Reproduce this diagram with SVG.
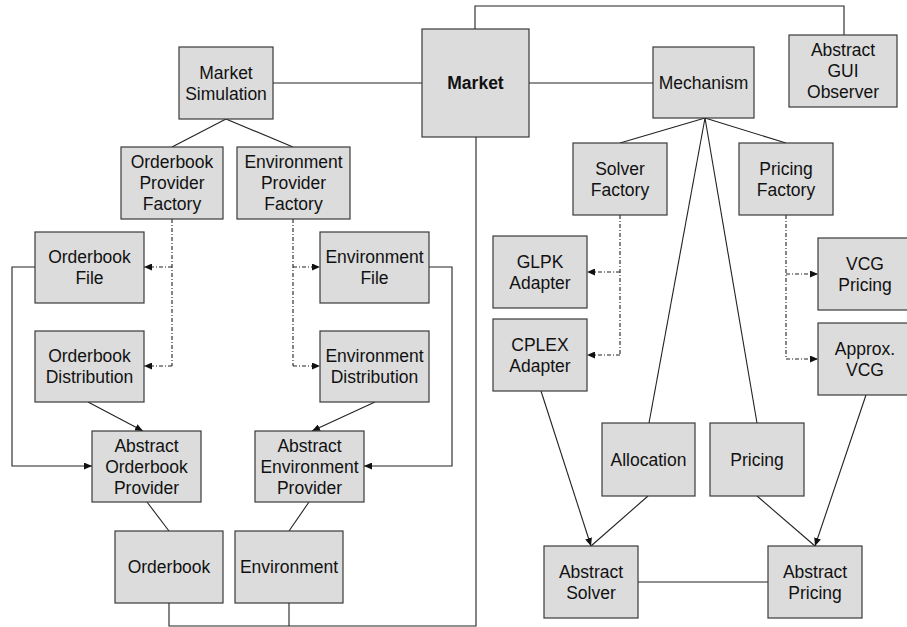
<svg xmlns="http://www.w3.org/2000/svg" width="907" height="627" viewBox="0 0 907 627">
<defs>
<marker id="arr" viewBox="0 0 8 7" refX="8" refY="3.5" markerWidth="8" markerHeight="7" markerUnits="userSpaceOnUse" orient="auto">
<path d="M0,0 L8,3.5 L0,7 z" fill="#111"/>
</marker>
<style>
.box rect{fill:#dcdcdc;stroke:#3a3a3a;stroke-width:1.2}
.box text{font-family:"Liberation Sans",Arial,sans-serif;font-size:17.5px;fill:#111;text-anchor:middle}
.ln{fill:none;stroke:#222;stroke-width:1.1}
.dash{fill:none;stroke:#222;stroke-width:1.1;stroke-dasharray:4,2,1,2}
.ar{marker-end:url(#arr)}
</style>
</defs>
<rect width="907" height="627" fill="#fff"/>
<g id="connectors">
<line class="ln" x1="273" y1="83" x2="422" y2="83"/>
<line class="ln" x1="529" y1="83" x2="653" y2="83"/>
<polyline class="ln" points="475,29 475,6 844,6 844,35"/>
<polyline class="ln" points="476,137 476,626 169,626 169,603"/>
<line class="ln" x1="289" y1="603" x2="289" y2="626"/>
<line class="ln" x1="226" y1="119" x2="172" y2="147"/>
<line class="ln" x1="226" y1="119" x2="293" y2="147"/>
<line class="dash" x1="172" y1="219" x2="172" y2="366"/>
<line class="dash ar" x1="172" y1="267" x2="144" y2="267"/>
<line class="dash ar" x1="172" y1="366" x2="144" y2="366"/>
<line class="dash" x1="293" y1="219" x2="293" y2="366"/>
<line class="dash ar" x1="293" y1="267" x2="320" y2="267"/>
<line class="dash ar" x1="293" y1="366" x2="320" y2="366"/>
<polyline class="ln ar" points="35,267 12,267 12,466 92,466"/>
<line class="ln ar" x1="88" y1="402" x2="143" y2="431"/>
<line class="ln ar" x1="375" y1="402" x2="312" y2="431"/>
<polyline class="ln ar" points="429,267 452,267 452,466 364,466"/>
<line class="ln" x1="147" y1="502" x2="169" y2="531"/>
<line class="ln" x1="309" y1="502" x2="289" y2="531"/>
<line class="ln" x1="705" y1="118" x2="620" y2="143"/>
<line class="ln" x1="705" y1="118" x2="786" y2="143"/>
<line class="ln" x1="705" y1="118" x2="649" y2="423"/>
<line class="ln" x1="705" y1="118" x2="757" y2="423"/>
<line class="dash" x1="620" y1="215" x2="620" y2="355"/>
<line class="dash ar" x1="620" y1="272" x2="587" y2="272"/>
<line class="dash ar" x1="620" y1="355" x2="587" y2="355"/>
<line class="dash" x1="786" y1="215" x2="786" y2="359"/>
<line class="dash ar" x1="786" y1="274" x2="818" y2="274"/>
<line class="dash ar" x1="786" y1="359" x2="818" y2="359"/>
<line class="ln ar" x1="541" y1="391" x2="591" y2="546"/>
<line class="ln" x1="648" y1="496" x2="591" y2="546"/>
<line class="ln" x1="757" y1="496" x2="815" y2="546"/>
<line class="ln ar" x1="866" y1="395" x2="815" y2="546"/>
<line class="ln" x1="638" y1="582" x2="768" y2="582"/>
</g>
<g id="market-simulation" class="box"><rect x="179" y="47" width="94" height="72"/><text x="226" y="79">Market</text><text x="226" y="100">Simulation</text></g>
<g id="market" class="box"><rect x="422" y="29" width="107" height="108"/><text x="475.5" y="89" font-weight="bold">Market</text></g>
<g id="mechanism" class="box"><rect x="653" y="47" width="101" height="71"/><text x="703.5" y="89">Mechanism</text></g>
<g id="abstract-gui-observer" class="box"><rect x="789" y="35" width="108" height="72"/><text x="843" y="56">Abstract</text><text x="843" y="77">GUI</text><text x="843" y="98">Observer</text></g>
<g id="orderbook-provider-factory" class="box"><rect x="121" y="147" width="102" height="72"/><text x="172" y="168">Orderbook</text><text x="172" y="189">Provider</text><text x="172" y="210">Factory</text></g>
<g id="environment-provider-factory" class="box"><rect x="237" y="147" width="113" height="72"/><text x="293.5" y="168">Environment</text><text x="293.5" y="189">Provider</text><text x="293.5" y="210">Factory</text></g>
<g id="orderbook-file" class="box"><rect x="35" y="232" width="109" height="71"/><text x="89.5" y="263">Orderbook</text><text x="89.5" y="284">File</text></g>
<g id="orderbook-distribution" class="box"><rect x="35" y="331" width="109" height="71"/><text x="89.5" y="362">Orderbook</text><text x="89.5" y="383">Distribution</text></g>
<g id="environment-file" class="box"><rect x="320" y="232" width="109" height="71"/><text x="374.5" y="263">Environment</text><text x="374.5" y="284">File</text></g>
<g id="environment-distribution" class="box"><rect x="320" y="331" width="109" height="71"/><text x="374.5" y="362">Environment</text><text x="374.5" y="383">Distribution</text></g>
<g id="abstract-orderbook-provider" class="box"><rect x="92" y="431" width="109" height="71"/><text x="146.5" y="452">Abstract</text><text x="146.5" y="473">Orderbook</text><text x="146.5" y="494">Provider</text></g>
<g id="abstract-environment-provider" class="box"><rect x="255" y="431" width="109" height="71"/><text x="309.5" y="452">Abstract</text><text x="309.5" y="473">Environment</text><text x="309.5" y="494">Provider</text></g>
<g id="orderbook" class="box"><rect x="115" y="531" width="108" height="72"/><text x="169" y="573">Orderbook</text></g>
<g id="environment" class="box"><rect x="235" y="531" width="108" height="72"/><text x="289" y="573">Environment</text></g>
<g id="solver-factory" class="box"><rect x="573" y="143" width="94" height="72"/><text x="620" y="175">Solver</text><text x="620" y="196">Factory</text></g>
<g id="pricing-factory" class="box"><rect x="739" y="143" width="94" height="72"/><text x="786" y="175">Pricing</text><text x="786" y="196">Factory</text></g>
<g id="glpk-adapter" class="box"><rect x="493" y="236" width="94" height="72"/><text x="540" y="268">GLPK</text><text x="540" y="289">Adapter</text></g>
<g id="cplex-adapter" class="box"><rect x="493" y="319" width="94" height="72"/><text x="540" y="351">CPLEX</text><text x="540" y="372">Adapter</text></g>
<g id="vcg-pricing" class="box"><rect x="818" y="238" width="94" height="72"/><text x="865" y="270">VCG</text><text x="865" y="291">Pricing</text></g>
<g id="approx-vcg" class="box"><rect x="818" y="323" width="94" height="72"/><text x="865" y="355">Approx.</text><text x="865" y="376">VCG</text></g>
<g id="allocation" class="box"><rect x="602" y="423" width="93" height="73"/><text x="648.5" y="466">Allocation</text></g>
<g id="pricing" class="box"><rect x="710" y="423" width="94" height="73"/><text x="757" y="466">Pricing</text></g>
<g id="abstract-solver" class="box"><rect x="544" y="546" width="94" height="72"/><text x="591" y="578">Abstract</text><text x="591" y="599">Solver</text></g>
<g id="abstract-pricing" class="box"><rect x="768" y="546" width="94" height="72"/><text x="815" y="578">Abstract</text><text x="815" y="599">Pricing</text></g>
</svg>
